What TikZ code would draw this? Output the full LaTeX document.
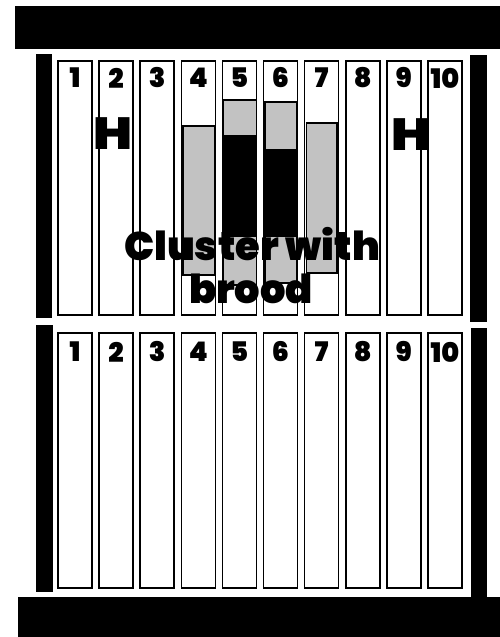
\documentclass[tikz,border=0pt]{standalone}
\usepackage{fontspec}
\setsansfont{Poppins}[BoldFont={Poppins Black}]
\usetikzlibrary{positioning}
\colorlet{PatchGray}{black!24}

\begin{document}
\begin{tikzpicture}[x=1pt, y=-1pt, font=\sffamily\bfseries,
        frame/.style={draw, line width=1.6pt, fill=white},
        patch/.style={draw, line width=1.6pt, fill=PatchGray},
        num/.style={inner sep=0pt, font=\sffamily\bfseries\fontsize{27}{28}\selectfont},
        heater/.style={inner sep=0pt, xscale=1.15, font=\sffamily\bfseries\fontsize{45}{48}\selectfont},
        caption/.style={inner sep=0pt, anchor=base, font=\sffamily\bfseries\fontsize{40}{42}\selectfont}]
        \useasboundingbox (0,0) rectangle (500,637);
        % Top and bottom walls
        \fill (15,6) rectangle (500,49);
        \fill (18,597) rectangle (500,637);
        % Side walls
        \fill (36,54) rectangle (52,318);
        \fill (470,55) rectangle (487,322);
        \fill (36,325) rectangle (53,592);
        \fill (471,328) rectangle (487,597);
        % Frames, upper and lower box
        \foreach \i in {1,...,10} {
            \pgfmathsetmacro{\xl}{58+41.1*(\i-1)}
            \draw[frame] (\xl,61) rectangle ++(34,254);
            \node[num] (up\i) at (\xl+17,78) {\i};
            \draw[frame] (\xl,333) rectangle ++(34,255);
            \node[num] (lo\i) at (\xl+17,352) {\i};
        }
        % Cluster
        \draw[patch] (183,126) rectangle (215,275);
        \draw[patch] (223.5,100) rectangle (256.5,285);
        \fill (223.5,135) rectangle (256.5,237);
        \draw[patch] (265,102) rectangle (297,283);
        \fill (265,149) rectangle (297,237);
        \draw[patch] (306.5,123) rectangle (337,273);
        % Heaters
        \node[heater] (hleft) at (113,134) {H};
        \node[heater] (hright) at (411,135) {H};
        \node[caption] (cluster) at (252,260) {Cluster with};
        \node[caption] (brood) at (251,303) {brood};
    \end{tikzpicture}
\end{document}
